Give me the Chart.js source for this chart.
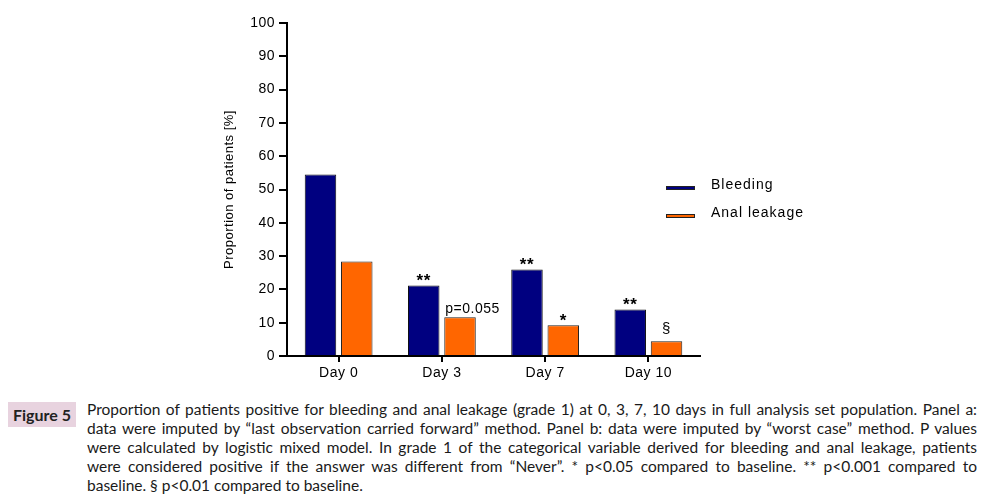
<!DOCTYPE html>
<html>
<head>
<meta charset="utf-8">
<script src="https://cdn.jsdelivr.net/npm/chart.js@4.4.0/dist/chart.umd.min.js"></script>
<style>
    body { margin: 0; background: #fff; width: 999px; height: 498px; overflow: hidden; position: relative; }
    #chart-box { position: absolute; left: 0; top: 0; width: 999px; height: 390px; }
    .fig-label {
        position: absolute; left: 8px; top: 402px; width: 68px; height: 25px;
        background: #e8d3df; color: #222; font-family: Lato, "Liberation Sans", sans-serif;
        font-weight: bold; font-size: 16px; line-height: 25px; text-align: center;
    }
    .caption {
        position: absolute; left: 87px; top: 400px; width: 890px;
        font-family: Lato, "Liberation Sans", sans-serif; font-size: 15.5px; color: #1a1a1a; line-height: 19px;
    }
    .caption div { text-align: justify; text-align-last: justify; white-space: nowrap; }
    .caption div.last { text-align-last: left; }
</style>
</head>
<body>
<div id="chart-box"><canvas id="grafico" width="999" height="390"></canvas></div>
<div class="fig-label">Figure 5</div>
<div class="caption">
    <div>Proportion of patients positive for bleeding and anal leakage (grade 1) at 0, 3, 7, 10 days in full analysis set population. Panel a:</div>
    <div>data were imputed by “last observation carried forward” method. Panel b: data were imputed by “worst case” method. P values</div>
    <div>were calculated by logistic mixed model. In grade 1 of the categorical variable derived for bleeding and anal leakage, patients</div>
    <div>were considered positive if the answer was different from “Never”. * p&lt;0.05 compared to baseline. ** p&lt;0.001 compared to</div>
    <div class="last">baseline. § p&lt;0.01 compared to baseline.</div>
</div>
<script>
// Dados do gráfico
const categorias = ['Day 0', 'Day 3', 'Day 7', 'Day 10'];
const sangramento = [54.5, 21.2, 26.0, 14.0];
const vazamento = [28.4, 11.6, 9.2, 4.4];
const marcasSangramento = ['', '**', '**', '**'];
const marcasVazamento = ['', 'p=0.055', '*', '§'];
const nomesSeries = ['Bleeding', 'Anal leakage'];

const fonte = '"Liberation Sans", Arial, sans-serif';

// Espaçamento entre letras (como no original)
const espacoPlugin = {
    id: 'espaco',
    beforeDraw(chart) { chart.ctx.letterSpacing = '0.5px'; },
    afterDraw(chart) { chart.ctx.letterSpacing = '0px'; }
};

// Legenda desenhada à direita do gráfico
const legendaPlugin = {
    id: 'legendaLateral',
    afterDraw(chart) {
        const ctx = chart.ctx;
        ctx.save();
        ctx.letterSpacing = '1px';
        ctx.font = '14px ' + fonte;
        ctx.textBaseline = 'middle';
        chart.data.datasets.forEach((ds, i) => {
            const y = 186 + i * 28;
            ctx.fillStyle = ds.backgroundColor;
            ctx.fillRect(666, y, 29, 4);
            ctx.strokeStyle = '#222';
            ctx.lineWidth = 1;
            ctx.strokeRect(666.5, y + 0.5, 28, 3);
            ctx.fillStyle = '#000';
            ctx.fillText(ds.label, 711, y - 1);
        });
        ctx.restore();
    }
};

// Marcas de significância acima das barras
const marcasPlugin = {
    id: 'marcas',
    afterDatasetsDraw(chart) {
        const ctx = chart.ctx;
        const todas = [marcasSangramento, marcasVazamento];
        ctx.save();
        ctx.fillStyle = '#000';
        ctx.textBaseline = 'alphabetic';
        todas.forEach((marcas, i) => {
            chart.getDatasetMeta(i).data.forEach((bar, j) => {
                const txt = marcas[j];
                if (!txt) return;
                if (txt.length > 2) {
                    ctx.font = '14px ' + fonte;
                    ctx.textAlign = 'left';
                    ctx.fillText(txt, bar.x - bar.width / 2 + 1, bar.y - 4);
                } else if (txt === '§') {
                    ctx.font = '15px ' + fonte;
                    ctx.textAlign = 'center';
                    ctx.fillText(txt, bar.x, bar.y - 8);
                } else {
                    ctx.font = 'bold 17px ' + fonte;
                    ctx.textAlign = 'center';
                    ctx.fillText(txt, bar.x, bar.y + 1);
                }
            });
        });
        ctx.restore();
    }
};

const ctx = document.getElementById('grafico').getContext('2d');
const grafico = new Chart(ctx, {
    type: 'bar',
    data: {
        labels: categorias,
        datasets: [{
            label: nomesSeries[0],
            data: sangramento,
            backgroundColor: '#000080',
            borderColor: '#111',
            borderWidth: 1,
            categoryPercentage: 0.703,
            barPercentage: 0.868
        }, {
            label: nomesSeries[1],
            data: vazamento,
            backgroundColor: '#ff6600',
            borderColor: '#222',
            borderWidth: 1,
            categoryPercentage: 0.703,
            barPercentage: 0.868
        }]
    },
    options: {
        responsive: false,
        animation: false,
        devicePixelRatio: 1,
        layout: { padding: { left: 222, right: 299, top: 23, bottom: 0 } },
        plugins: {
            legend: { display: false },
            tooltip: { enabled: false }
        },
        scales: {
            x: {
                grid: { drawOnChartArea: false, offset: false, tickLength: 6, color: '#000', lineWidth: 2 },
                border: { color: '#000', width: 2 },
                ticks: { color: '#000', font: { family: fonte, size: 14 }, padding: 3 },
                afterFit(s) { s.height = 34; }
            },
            y: {
                min: 0,
                max: 100,
                grid: { drawOnChartArea: false, tickLength: 8, color: '#000', lineWidth: 2 },
                border: { color: '#000', width: 2 },
                ticks: { stepSize: 10, color: '#000', font: { family: fonte, size: 14 }, padding: 4 },
                title: {
                    display: true,
                    text: 'Proportion of patients [%]',
                    color: '#000',
                    font: { family: fonte, size: 13 },
                    padding: { top: 0, bottom: 0 }
                },
                afterFit(s) { s.width = 65; }
            }
        }
    },
    plugins: [espacoPlugin, legendaPlugin, marcasPlugin]
});
</script>
</body>
</html>
